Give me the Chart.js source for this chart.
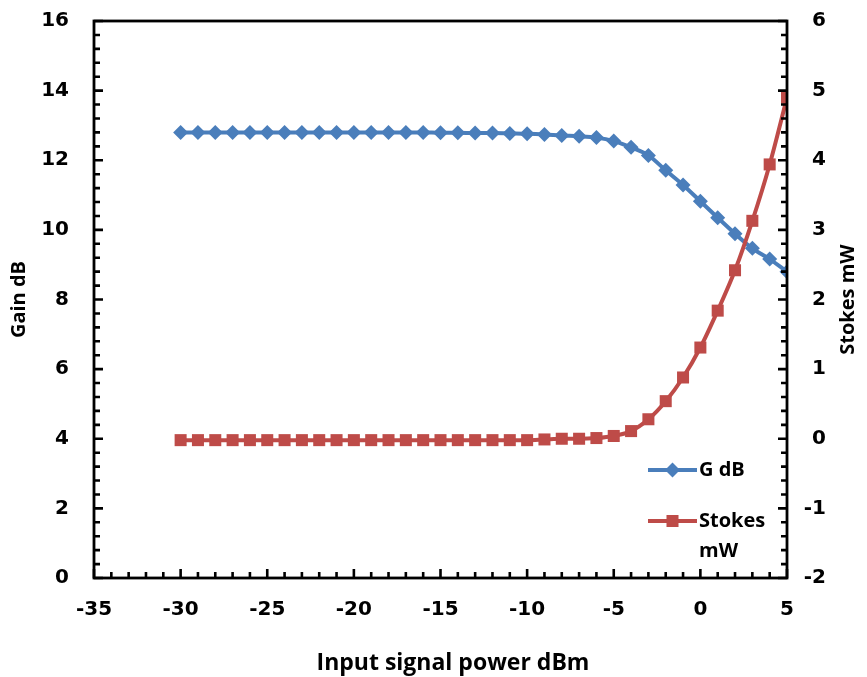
<!DOCTYPE html>
<html>
<head>
<meta charset="utf-8">
<script src="https://cdn.jsdelivr.net/npm/chart.js@4.4.0/dist/chart.umd.min.js"></script>
<style>
  body { margin: 0; background: #fff; }
  #wrap { width: 867px; height: 677px; position: relative; }
</style>
</head>
<body>
<div id="wrap"><canvas id="gain-stokes-canvas"></canvas></div>
<script>
// input signal power (dBm)
var inputPower = [-30, -29, -28, -27, -26, -25, -24, -23, -22, -21, -20, -19,
    -18, -17, -16, -15, -14, -13, -12, -11, -10, -9, -8, -7, -6, -5, -4, -3,
    -2, -1, 0, 1, 2, 3, 4, 5];

// gain (dB), left axis
var gainDb = [12.8, 12.8, 12.8, 12.8, 12.8, 12.8, 12.8, 12.8, 12.8, 12.8,
    12.8, 12.8, 12.8, 12.8, 12.8, 12.79, 12.79, 12.78, 12.78, 12.77, 12.76,
    12.74, 12.71, 12.69, 12.65, 12.55, 12.37, 12.14, 11.71, 11.29, 10.82,
    10.35, 9.89, 9.47, 9.16, 8.8];

// stokes power (mW), right axis
var stokesMw = [-0.02, -0.02, -0.02, -0.02, -0.02, -0.02, -0.02, -0.02,
    -0.02, -0.02, -0.02, -0.02, -0.02, -0.02, -0.02, -0.02, -0.02, -0.02,
    -0.02, -0.02, -0.02, -0.01, 0.0, 0.0, 0.01, 0.04, 0.11, 0.28, 0.54, 0.88,
    1.31, 1.84, 2.42, 3.13, 3.94, 4.9];

var xTicks = [-35, -30, -25, -20, -15, -10, -5, 0, 5];
var gainTicks = [0, 2, 4, 6, 8, 10, 12, 14, 16];
var stokesTicks = [-2, -1, 0, 1, 2, 3, 4, 5, 6];

var blue = '#4a7ebb';
var red = '#be4b48';
var tickFont = { family: 'DejaVu Sans', size: 20, weight: 'bold' };
var titleFont = 'Open Sans';

var toPoints = function(xs, ys) {
    var pts = [];
    for (var i = 0; i < xs.length; i++) {
        pts.push({ x: xs[i], y: ys[i] });
    }
    return pts;
};

var fixedTicks = function(list) {
    return function(scale) {
        scale.ticks = list.map(function(v) { return { value: v }; });
    };
};

var fitTo = function(w, h) {
    return function(scale) {
        if (w !== null) scale.width = w;
        if (h !== null) scale.height = h;
        scale.paddingTop = 0;
        scale.paddingBottom = 0;
        scale.paddingLeft = 0;
        scale.paddingRight = 0;
    };
};

// frame + inward tick marks, the way the spreadsheet drew them
var framePlugin = {
    id: 'frame',
    afterDatasetsDraw: function(chart) {
        var ctx = chart.ctx;
        var a = chart.chartArea;
        var sx = chart.scales.x, sy = chart.scales.y, sy2 = chart.scales.y2;
        ctx.save();
        ctx.strokeStyle = '#000';
        ctx.lineWidth = 2.6;
        ctx.beginPath();
        var v, p, len;
        for (v = -35; v <= 5; v += 1) {
            p = sx.getPixelForValue(v);
            len = (v % 5 === 0) ? 9 : 6;
            ctx.moveTo(p, a.bottom);
            ctx.lineTo(p, a.bottom - len);
        }
        for (var i = 0; i <= 40; i++) {
            v = i * 0.4;
            p = sy.getPixelForValue(v);
            len = (i % 5 === 0) ? 9 : 6;
            ctx.moveTo(a.left, p);
            ctx.lineTo(a.left + len, p);
        }
        for (i = 0; i <= 40; i++) {
            v = -2 + i * 0.2;
            p = sy2.getPixelForValue(v);
            len = (i % 5 === 0) ? 9 : 6;
            ctx.moveTo(a.right, p);
            ctx.lineTo(a.right - len, p);
        }
        ctx.stroke();
        ctx.lineWidth = 2.8;
        ctx.strokeRect(a.left, a.top, a.right - a.left, a.bottom - a.top);

        ctx.fillStyle = '#000';
        ctx.textAlign = 'center';
        ctx.textBaseline = 'middle';
        // bottom axis title
        ctx.font = 'bold 23px "' + titleFont + '"';
        ctx.fillText('Input signal power dBm', 453, 663);
        // right axis title, read bottom to top
        ctx.font = 'bold 20px "' + titleFont + '"';
        ctx.translate(848, (a.top + a.bottom) / 2);
        ctx.rotate(-Math.PI / 2);
        ctx.fillText('Stokes mW', 0, 0);
        ctx.restore();
    }
};

// legend sitting inside the plot, lower right
var legendPlugin = {
    id: 'innerLegend',
    afterDraw: function(chart) {
        var ctx = chart.ctx;
        var a = chart.chartArea;
        var x0 = a.right - 139, x1 = a.right - 90;
        var items = [
            { color: blue, style: 'rectRot', r: 7.5, y: 470, text: ['G dB'] },
            { color: red, style: 'rect', r: 8.5, y: 521, text: ['Stokes', 'mW'] }
        ];
        ctx.save();
        items.forEach(function(it) {
            ctx.strokeStyle = it.color;
            ctx.lineWidth = 4;
            ctx.beginPath();
            ctx.moveTo(x0, it.y);
            ctx.lineTo(x1, it.y);
            ctx.stroke();
            ctx.fillStyle = it.color;
            Chart.helpers.drawPoint(ctx, { pointStyle: it.style, radius: it.r, borderWidth: 0 },
                (x0 + x1) / 2, it.y);
            ctx.fillStyle = '#000';
            ctx.font = 'bold 20px "' + titleFont + '"';
            ctx.textAlign = 'left';
            ctx.textBaseline = 'middle';
            for (var k = 0; k < it.text.length; k++) {
                ctx.fillText(it.text[k], x1 + 2, it.y + k * 30);
            }
        });
        ctx.restore();
    }
};

window.onload = function() {
    var ctx = document.getElementById('gain-stokes-canvas').getContext('2d');
    window.chart1 = new Chart(ctx, {
        type: 'line',
        data: {
            datasets: [{
                label: 'G dB',
                data: toPoints(inputPower, gainDb),
                yAxisID: 'y',
                borderColor: blue,
                backgroundColor: blue,
                borderWidth: 4,
                pointStyle: 'rectRot',
                pointRadius: 7.5,
                pointBorderWidth: 0,
                cubicInterpolationMode: 'monotone',
                order: 1
            }, {
                label: 'Stokes mW',
                data: toPoints(inputPower, stokesMw),
                yAxisID: 'y2',
                borderColor: red,
                backgroundColor: red,
                borderWidth: 4,
                pointStyle: 'rect',
                pointRadius: 8.5,
                pointBorderWidth: 0,
                cubicInterpolationMode: 'monotone',
                order: 0
            }]
        },
        options: {
            responsive: true,
            maintainAspectRatio: false,
            animation: false,
            layout: { padding: { top: 21, left: 0, right: 41, bottom: 0 } },
            plugins: {
                legend: { display: false },
                tooltip: { enabled: false }
            },
            scales: {
                x: {
                    type: 'linear',
                    min: -35,
                    max: 5,
                    afterBuildTicks: fixedTicks(xTicks),
                    afterFit: fitTo(null, 99),
                    grid: { display: false, drawTicks: false },
                    border: { display: false },
                    ticks: { font: tickFont, color: '#000', padding: 20, maxRotation: 0 }
                },
                y: {
                    position: 'left',
                    min: 0,
                    max: 16,
                    afterBuildTicks: fixedTicks(gainTicks),
                    afterFit: fitTo(94, null),
                    grid: { display: false, drawTicks: false },
                    border: { display: false },
                    ticks: { font: tickFont, color: '#000', padding: 25 },
                    title: {
                        display: true,
                        text: 'Gain dB',
                        color: '#000',
                        font: { family: titleFont, size: 20, weight: 'bold' },
                        padding: { top: 7, bottom: 0 }
                    }
                },
                y2: {
                    position: 'right',
                    min: -2,
                    max: 6,
                    afterBuildTicks: fixedTicks(stokesTicks),
                    afterFit: fitTo(39, null),
                    grid: { display: false, drawTicks: false },
                    border: { display: false },
                    ticks: { font: tickFont, color: '#000', padding: 17, crossAlign: 'far' }
                }
            }
        },
        plugins: [framePlugin, legendPlugin]
    });
};
</script>
</body>
</html>
